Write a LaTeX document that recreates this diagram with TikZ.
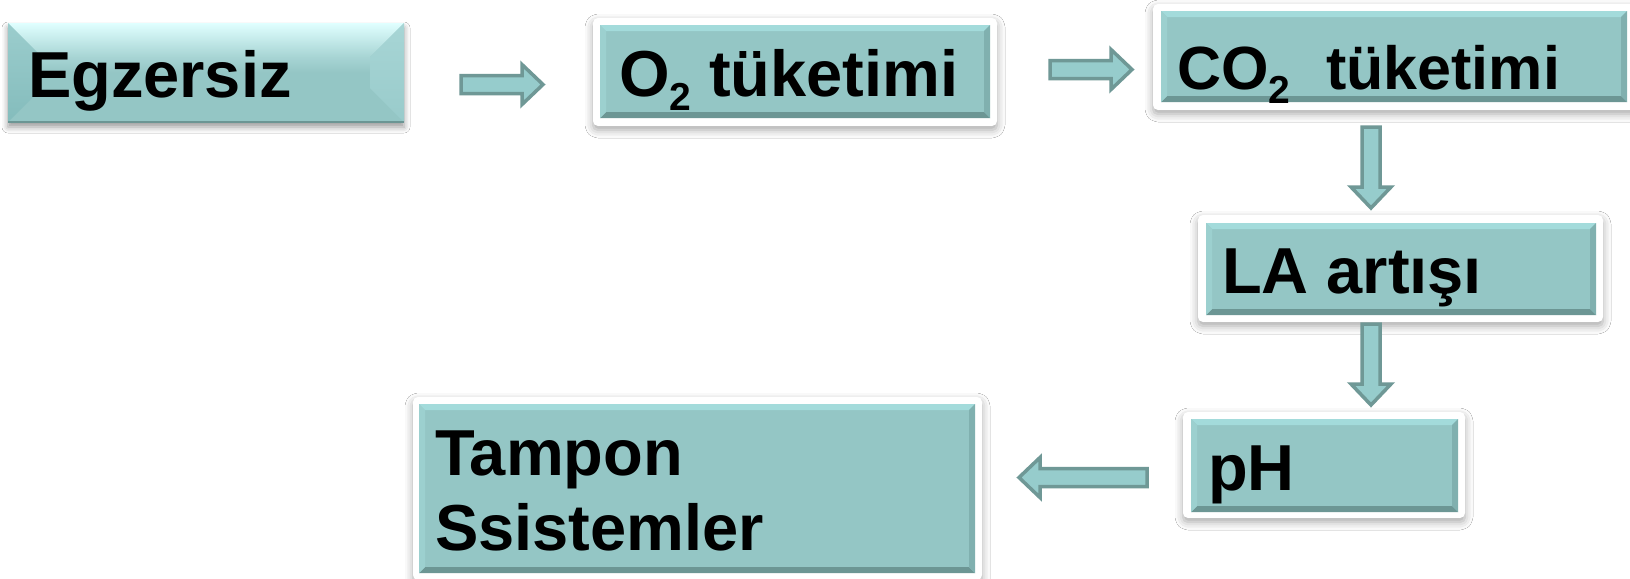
\documentclass[tikz,border=0pt]{standalone}
\usepackage{fontspec}
\setmainfont{Liberation Sans}
\usetikzlibrary{calc,shadows.blur}
\definecolor{face}{RGB}{148,198,197}
\definecolor{bevtopc}{RGB}{163,219,219}
\definecolor{bevbotc}{RGB}{108,150,148}
\definecolor{bevleftc}{RGB}{156,208,207}
\definecolor{bevrightc}{RGB}{128,176,175}
\definecolor{egztop}{RGB}{224,255,255}
\definecolor{egzleft}{RGB}{132,188,188}
\definecolor{egzright}{RGB}{153,203,203}
\definecolor{arrfill}{RGB}{150,204,204}
\definecolor{arrline}{RGB}{111,152,150}
\newcommand\mysub[1]{\raisebox{-7pt}{\fontsize{19.5}{19.5}\selectfont #1}}
\newcommand\bevelit[2]{%
  \fill[bevtopc] (#1.north west) -- (#1.north east) -- ($(#1.north east)+(-#2,#2)$) -- ($(#1.north west)+(#2,#2)$) -- cycle;
  \fill[bevbotc] (#1.south west) -- (#1.south east) -- ($(#1.south east)+(-#2,-#2)$) -- ($(#1.south west)+(#2,-#2)$) -- cycle;
  \fill[bevleftc] (#1.north west) -- ($(#1.north west)+(#2,#2)$) -- ($(#1.south west)+(#2,-#2)$) -- (#1.south west) -- cycle;
  \fill[bevrightc] (#1.north east) -- ($(#1.north east)+(-#2,#2)$) -- ($(#1.south east)+(-#2,-#2)$) -- (#1.south east) -- cycle;
}
\newcommand\bigbevel[2]{%
  \shade[top color=egztop, bottom color=face!75!egztop] (#1.north west) -- (#1.north east) -- ($(#1.north east)+(-#2,#2)$) -- ($(#1.north west)+(#2,#2)$) -- cycle;
  \shade[top color=face!75!egztop, bottom color=face] ($(#1.north west)+(#2,#2)$) rectangle ($(#1.east)+(-#2,0)$);
  \shade[top color=egzleft!75!egztop, bottom color=egzleft] (#1.north west) -- ($(#1.north west)+(#2,#2)$) -- ($(#1.south west)+(#2,-#2)$) -- (#1.south west) -- cycle;
  \shade[top color=egzright!80!egztop, bottom color=egzright] (#1.north east) -- ($(#1.north east)+(-#2,#2)$) -- ($(#1.south east)+(-#2,-#2)$) -- (#1.south east) -- cycle;
  \draw[bevbotc, line width=0.8pt] (#1.south west) -- (#1.south east);
}
\begin{document}
\begin{tikzpicture}[x=0.5pt,y=-0.5pt,
  frame/.style={draw=none, fill=white, rounded corners=2.5pt, inner sep=0pt, outer sep=0pt,
    blur shadow={shadow xshift=0pt, shadow yshift=-2pt, shadow blur radius=4pt, shadow opacity=35}},
  box/.style={fill=face, draw=none, inner sep=0pt, outer sep=0pt},
  egzbox/.style={fill=face, draw=none, inner sep=0pt, outer sep=0pt,
    blur shadow={shadow xshift=0pt, shadow yshift=-2.5pt, shadow blur radius=3pt, shadow opacity=40}},
  txt/.style={font=\fontsize{32.5}{37.5}\selectfont\bfseries, inner sep=0pt, outer sep=0pt, anchor=base west, align=left},
  pics/barrow/.style={code={
    \draw[line width=1.75pt, draw=arrline, fill=arrfill, line join=miter]
      (0,-9) -- (#1-21,-9) -- (#1-21,-20) -- (#1,0) -- (#1-21,20) -- (#1-21,9) -- (0,9) -- cycle;}}
]
\useasboundingbox[fill=white] (0,0) rectangle (1630,579);

% Egzersiz
\node[egzbox, minimum width=198pt, minimum height=49.5pt] (egz) at (206,72.5) {};
\bigbevel{egz}{34}
\node[txt] (egzt) at (28,97) {Egzersiz};

% O2
\node[frame, minimum width=202pt, minimum height=54pt] (o2f) at (795,72) {};
\node[box, minimum width=195pt, minimum height=46.5pt] (o2) at (795,71.5) {};
\bevelit{o2}{6}
\node[txt] (o2t) at (619,96) {O\mysub{2} tüketimi};

% CO2
\node[frame, minimum width=242pt, minimum height=53pt] (co2f) at (1395,57) {};
\node[box, minimum width=233pt, minimum height=45.5pt] (co2) at (1394,56.5) {};
\bevelit{co2}{6}
\node[txt, font=\fontsize{30.5}{37.5}\selectfont\bfseries] (co2t) at (1177,89) {CO\mysub{2}\hspace{18pt}tüketimi};

% LA
\node[frame, minimum width=202.5pt, minimum height=53.5pt] (laf) at (1400.5,268.5) {};
\node[box, minimum width=195pt, minimum height=46pt] (la) at (1401,269) {};
\bevelit{la}{6}
\node[txt] (lat) at (1222,293) {LA artışı};

% pH
\node[frame, minimum width=141pt, minimum height=53pt] (phf) at (1324,465) {};
\node[box, minimum width=133.5pt, minimum height=46.5pt] (ph) at (1324.5,465.5) {};
\bevelit{ph}{6}
\node[txt] (pht) at (1208,490) {pH};

% Tampon
\node[frame, minimum width=284.5pt, minimum height=91.5pt] (tampf) at (697.5,488.5) {};
\node[box, minimum width=278pt, minimum height=84.5pt] (tamp) at (697,488.5) {};
\bevelit{tamp}{6}
\node[txt] (tampt) at (435,550) {Tampon\\Ssistemler};

% arrows
\coordinate (a1) at (461,84.5);
\coordinate (a2) at (1050,69.5);
\coordinate (a3) at (1371,127);
\coordinate (a4) at (1371,324);
\coordinate (a5) at (1147,477.5);
\pic (arr1) at (a1) {barrow=82};
\pic (arr2) at (a2) {barrow=82};
\pic[rotate=-90] (arr3) at (a3) {barrow=81};
\pic[rotate=-90] (arr4) at (a4) {barrow=81};
\pic[rotate=180] (arr5) at (a5) {barrow=128};
\end{tikzpicture}
\end{document}
